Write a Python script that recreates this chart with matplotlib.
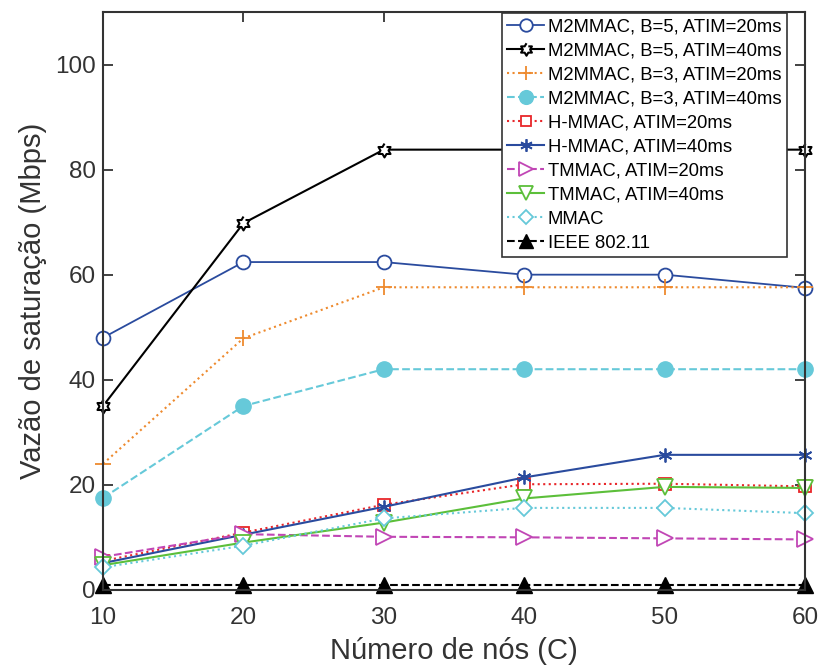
import matplotlib
matplotlib.use("Agg")
from matplotlib import pyplot as plt
import numpy as np

plt.rcParams['font.family'] = ['Liberation Sans', 'DejaVu Sans']

nos = [10, 20, 30, 40, 50, 60]

m2_b5_20 = [48, 62.4, 62.4, 60, 60, 57.5]
m2_b5_40 = [35, 69.8, 83.8, 83.8, 83.8, 83.8]
m2_b3_20 = [24, 47.9, 57.6, 57.6, 57.6, 57.6]
m2_b3_40 = [17.5, 35, 42, 42, 42, 42]
hmmac_20 = [5.5, 10.9, 16.2, 20.1, 20.2, 19.7]
hmmac_40 = [5.1, 10.5, 15.8, 21.4, 25.7, 25.7]
tmmac_20 = [6.3, 10.6, 10.1, 10, 9.8, 9.6]
tmmac_40 = [4.7, 9, 12.8, 17.4, 19.6, 19.4]
mmac = [4.3, 8.4, 13.6, 15.6, 15.6, 14.6]
ieee = [1.0, 1.0, 1.0, 1.0, 1.0, 1.0]

labels = ['M2MMAC, B=5, ATIM=20ms', 'M2MMAC, B=5, ATIM=40ms',
          'M2MMAC, B=3, ATIM=20ms', 'M2MMAC, B=3, ATIM=40ms',
          'H-MMAC, ATIM=20ms', 'H-MMAC, ATIM=40ms',
          'TMMAC, ATIM=20ms', 'TMMAC, ATIM=40ms',
          'MMAC', 'IEEE 802.11']

# hexagrama estilo MATLAB
ang = np.pi / 2 + np.arange(12) * np.pi / 6
rad = np.where(np.arange(12) % 2 == 0, 1.0, 0.58)
hexagrama = np.column_stack([rad * np.cos(ang), rad * np.sin(ang)])
asterisco = (6, 2, 0)

azul = '#2a4b9e'
cinza = '#333333'
fig = plt.figure(figsize=(8.18, 6.68), dpi=100)
ax = fig.add_axes([0.126, 0.117, 0.858, 0.865])

ms = 9
kw = dict(clip_on=False)
ax.plot(nos, m2_b5_20, '-', color=azul, marker='o', mfc='white', ms=ms + 1, mew=1.3, lw=1.3, label=labels[0], **kw)
ax.plot(nos, m2_b5_40, '-', color='black', marker=hexagrama, mfc='white', ms=ms + 1, mew=1.5, lw=1.5, label=labels[1], **kw)
ax.plot(nos, m2_b3_20, ':', color='#ee8a2e', marker='+', ms=ms + 2, mew=1.3, lw=1.5, label=labels[2], **kw)
ax.plot(nos, m2_b3_40, '--', color='#66c9d9', marker='o', mfc='#66c9d9', ms=ms + 2, lw=1.5, label=labels[3], **kw)
ax.plot(nos, hmmac_20, ':', color='#e8262a', marker='s', mfc='white', ms=ms - 1, mew=1.3, lw=1.5, label=labels[4], **kw)
ax.plot(nos, hmmac_40, '-', color=azul, marker=asterisco, ms=ms + 1, mew=1.3, lw=1.5, label=labels[5], **kw)
ax.plot(nos, tmmac_20, '--', color='#c146b5', marker='>', mfc='white', ms=ms + 2, mew=1.3, lw=1.5, label=labels[6], **kw)
ax.plot(nos, tmmac_40, '-', color='#5cbf3a', marker='v', mfc='white', ms=ms + 2, mew=1.3, lw=1.5, label=labels[7], **kw)
ax.plot(nos, mmac, ':', color='#66c9d9', marker='D', mfc='white', ms=ms - 1, mew=1.3, lw=1.5, label=labels[8], **kw)
ax.plot(nos, ieee, '--', color='black', marker='^', mfc='black', ms=ms + 2, lw=1.5, label=labels[9], **kw)

ax.set_xlim(10, 60)
ax.set_ylim(0, 110)
ax.set_xticks(nos)
ax.set_yticks([0, 20, 40, 60, 80, 100])
ax.tick_params(direction='in', length=7, width=1.3, top=True, right=True,
               labelsize=17.5, colors=cinza, pad=5)
ax.tick_params(axis='x', pad=12)
for s in ax.spines.values():
    s.set_linewidth(1.5)
    s.set_color(cinza)
ax.set_xlabel('Número de nós (C)', fontsize=21, color=cinza, labelpad=6)
ax.set_ylabel('Vazão de saturação (Mbps)', fontsize=21, color=cinza, labelpad=6)

leg = ax.legend(loc='upper right', bbox_to_anchor=(787 / 818, 1 - 13 / 668),
                bbox_transform=fig.transFigure, borderaxespad=0, fontsize=13.3,
                fancybox=False, framealpha=1, edgecolor=cinza,
                handlelength=2.0, handletextpad=0.2, labelspacing=0.38,
                borderpad=0.3, markerscale=0.9)
leg.get_frame().set_linewidth(1.2)
leg.set_zorder(5)

fig.savefig('out.png', dpi=100)
